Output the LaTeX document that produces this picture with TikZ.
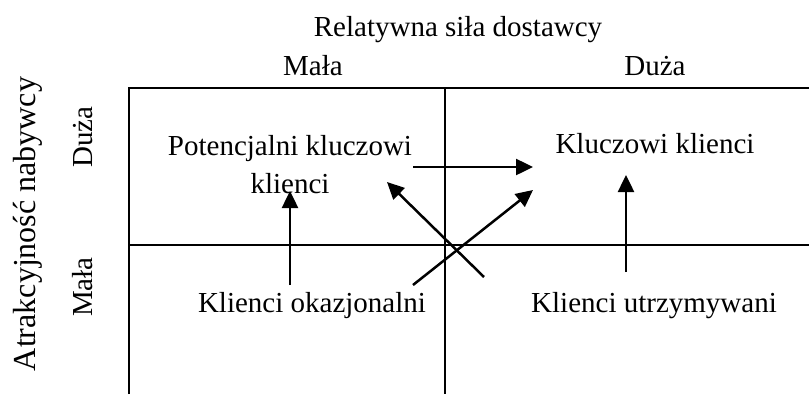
\documentclass[tikz,border=0pt]{standalone}
\usepackage{fontspec}
\setmainfont{Liberation Serif}
\usetikzlibrary{arrows.meta}
\begin{document}
\begin{tikzpicture}[x=1pt,y=-1pt,
  lbl/.style={font=\fontsize{29}{38}\selectfont, inner sep=0pt, anchor=base},
  grid/.style={line width=2pt},
  conn/.style={line width=2.5pt, -{Triangle[length=17pt,width=16pt]}}]
\useasboundingbox (0,0) rectangle (809,394);
% grid
\draw[grid] (129,394) -- (129,88) -- (809,88);
\draw[grid] (445,88) -- (445,394);
\draw[grid] (129,245) -- (809,245);
% labels
\node[lbl] (title) at (458,36) {Relatywna siła dostawcy};
\node[lbl] (cmala) at (313,75) {Mała};
\node[lbl] (cduza) at (655,75) {Duża};
\node[lbl, rotate=90, font=\fontsize{32}{38}\selectfont] (ytitle) at (35,224) {Atrakcyjność nabywcy};
\node[lbl, rotate=90] (rduza) at (92,137) {Duża};
\node[lbl, rotate=90] (rmala) at (92,287) {Mała};
\node[lbl, align=center] (pot) at (290,193) {Potencjalni kluczowi\\klienci};
\node[lbl] (kluc) at (655,153) {Kluczowi klienci};
\node[lbl] (okaz) at (312,312) {Klienci okazjonalni};
\node[lbl] (utrz) at (654,312) {Klienci utrzymywani};
% arrow ends
\coordinate (a1s) at (413,167); \coordinate (a1e) at (533,167);
\coordinate (a2s) at (484,277); \coordinate (a2e) at (387,182);
\coordinate (a3s) at (413,285); \coordinate (a3e) at (533,190);
\coordinate (a4s) at (290,285); \coordinate (a4e) at (290,191);
\coordinate (a5s) at (626,272); \coordinate (a5e) at (626,175);
\draw[conn] (a1s) -- (a1e);
\draw[conn] (a2s) -- (a2e);
\draw[conn] (a3s) -- (a3e);
\draw[conn] (a4s) -- (a4e);
\draw[conn] (a5s) -- (a5e);
\end{tikzpicture}
\end{document}
